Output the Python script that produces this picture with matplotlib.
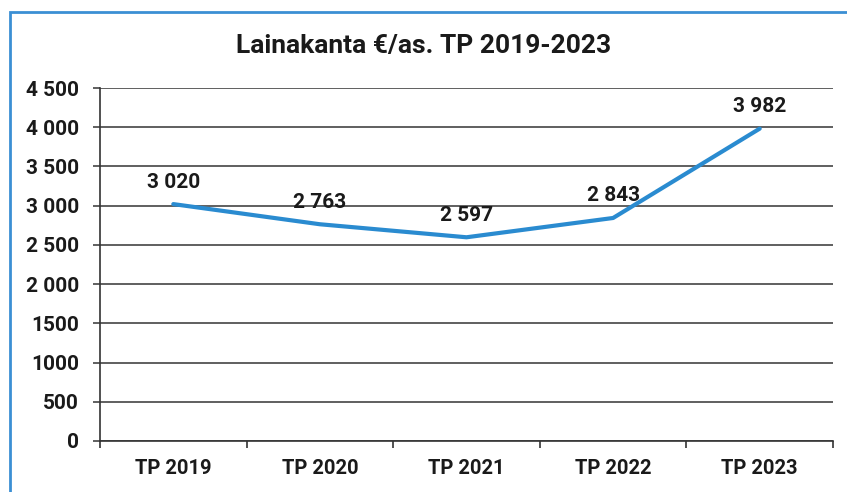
import numpy as np
import matplotlib.pyplot as plt
from matplotlib.patches import Rectangle

years = ['TP 2019', 'TP 2020', 'TP 2021', 'TP 2022', 'TP 2023']
loans = [3020, 2763, 2597, 2843, 3982]
value_labels = ['3 020', '2 763', '2 597', '2 843', '3 982']
yticks = [0, 500, 1000, 1500, 2000, 2500, 3000, 3500, 4000, 4500]
ytick_labels = ['0', '500', '1000', '1500', '2 000', '2 500', '3 000', '3 500', '4 000', '4 500']

plt.rcParams['font.family'] = ['Roboto', 'DejaVu Sans']
plt.rcParams['font.weight'] = 'bold'

fig = plt.figure(figsize=(8.47, 4.92), dpi=100)
fig.patch.set_facecolor('white')
# blue frame round the chart
fig.patches.append(Rectangle((10/847, -0.05), 1.0, 1 - 12/492 + 0.05, transform=fig.transFigure,
                             fill=False, edgecolor='#3b8fd4', linewidth=2))

ax = fig.add_axes([100/847, 1 - 441/492, 733/847, 353/492])
x = np.arange(len(years))
ax.plot(x, loans, color='#2a8bd0', linewidth=3, solid_capstyle='round')
for xi, v, lab in zip(x, loans, value_labels):
    ax.annotate(lab, (xi, v), xytext=(0, 9), textcoords='offset points',
                ha='center', va='bottom', fontsize=15, fontweight='bold', color='#1a1a1a')

ax.set_xlim(-0.5, len(years) - 0.5)
ax.set_ylim(0, 4500)
ax.set_yticks(yticks)
ax.set_yticklabels(ytick_labels)
ax.set_xticks(x)
ax.set_xticklabels(years)
ax.set_xticks(np.arange(-0.5, len(years)), minor=True)
ax.tick_params(axis='x', which='major', length=0, pad=13, labelsize=14.5, labelcolor='#1a1a1a')
ax.tick_params(axis='x', which='minor', length=5, width=1.2, color='#333333', direction='out')
ax.tick_params(axis='y', length=5, width=1.2, color='#444444', pad=10, labelsize=15, labelcolor='#1a1a1a')
ax.grid(axis='y', color='#444444', linewidth=1.2)
ax.set_axisbelow(True)
for s in ['top', 'right']:
    ax.spines[s].set_visible(False)
ax.spines['left'].set_color('#333333')
ax.spines['left'].set_linewidth(1.2)
ax.spines['bottom'].set_color('#333333')
ax.spines['bottom'].set_linewidth(1.2)

fig.text(424/847, 1 - 46/492, 'Lainakanta €/as. TP 2019-2023',
         ha='center', va='center', fontsize=19, fontweight='bold', color='#1a1a1a')

fig.savefig('out.png', dpi=100)
